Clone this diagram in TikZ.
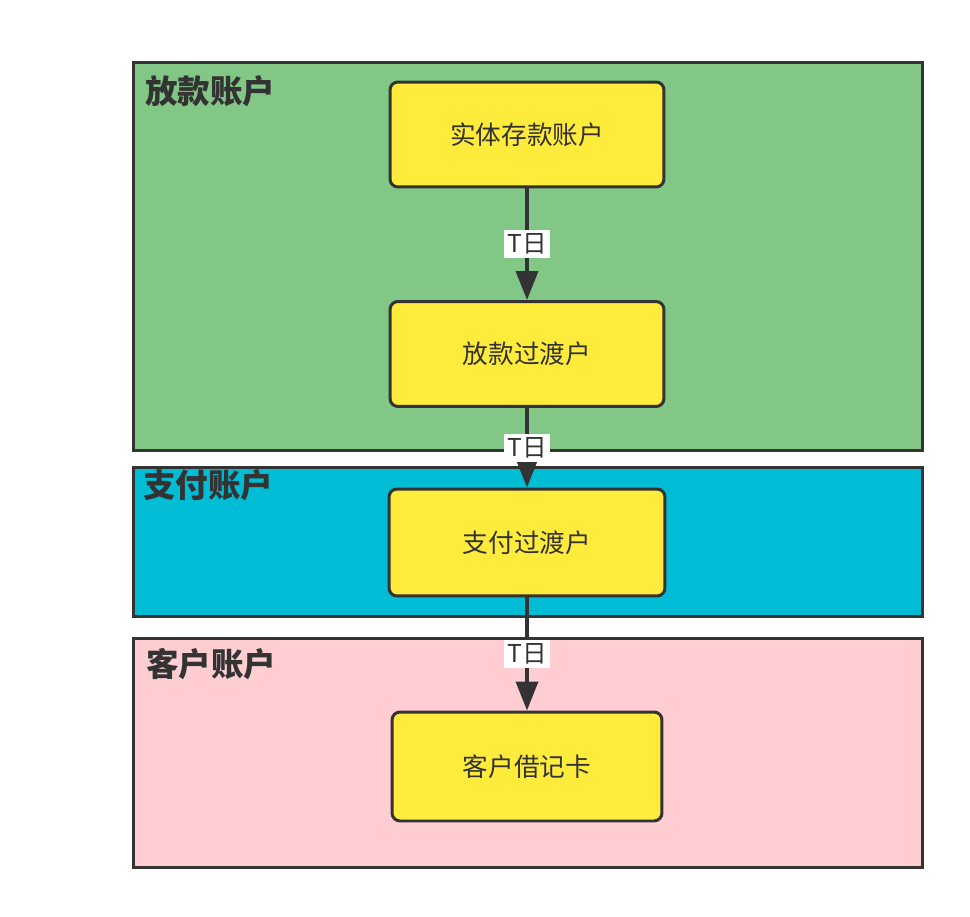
\documentclass[tikz,border=0pt]{standalone}
\usepackage{fontspec}
\setmainfont{Noto Sans CJK SC}
\usepackage{xcolor}
\usetikzlibrary{arrows.meta,positioning}
\definecolor{accgreen}{HTML}{82C785}
\definecolor{accblue}{HTML}{00BCD4}
\definecolor{accpink}{HTML}{FFCDD2}
\definecolor{accyellow}{HTML}{FFEB3B}
\definecolor{accdark}{HTML}{333333}
\begin{document}
\begin{tikzpicture}[x=0.02cm,y=-0.02cm,
  panel/.style={draw=accdark,line width=0.06cm,anchor=north west,minimum width=15.78cm,inner sep=0pt},
  ptitle/.style={anchor=west,text=accdark,inner sep=0pt,font=\fontsize{18.5}{20}\selectfont\bfseries},
  acct/.style={rounded corners=0.16cm,draw=accdark,fill=accyellow,line width=0.06cm,align=center,text=accdark,font=\fontsize{14.6}{16}\selectfont,minimum width=5.48cm,minimum height=2.1cm},
  tlbl/.style={fill=white,text=accdark,inner sep=2pt,font=\fontsize{14}{16}\selectfont},
  >={Triangle[length=0.58cm,width=0.44cm]}]
  \useasboundingbox (0,0) rectangle (970,916);
  \node[panel,fill=accgreen,minimum height=7.76cm] (loan) at (132,61) {};
  \node[panel,fill=accblue,minimum height=2.98cm] (pay) at (132,466) {};
  \node[panel,fill=accpink,minimum height=4.58cm] (cust) at (132,637) {};
  \node[ptitle] (loant) at (145,91) {放款账户};
  \node[ptitle] (payt) at (143,485) {支付账户};
  \node[ptitle] (custt) at (146,664) {客户账户};
  \node[acct] (deposit) at (527,134.5) {实体存款账户};
  \node[acct] (loantr) at (527,354) {放款过渡户};
  \node[acct,minimum width=5.52cm,minimum height=2.14cm] (paytr) at (527,542.5) {支付过渡户};
  \node[acct,minimum width=5.4cm,minimum height=2.18cm] (debit) at (527,766.5) {客户借记卡};
  \draw[->,accdark,line width=0.075cm] (deposit)--node[tlbl]{T日}(loantr);
  \draw[->,accdark,line width=0.075cm] (loantr)--node[tlbl]{T日}(paytr);
  \draw[->,accdark,line width=0.075cm] (paytr)--node[tlbl]{T日}(debit);
\end{tikzpicture}
\end{document}
